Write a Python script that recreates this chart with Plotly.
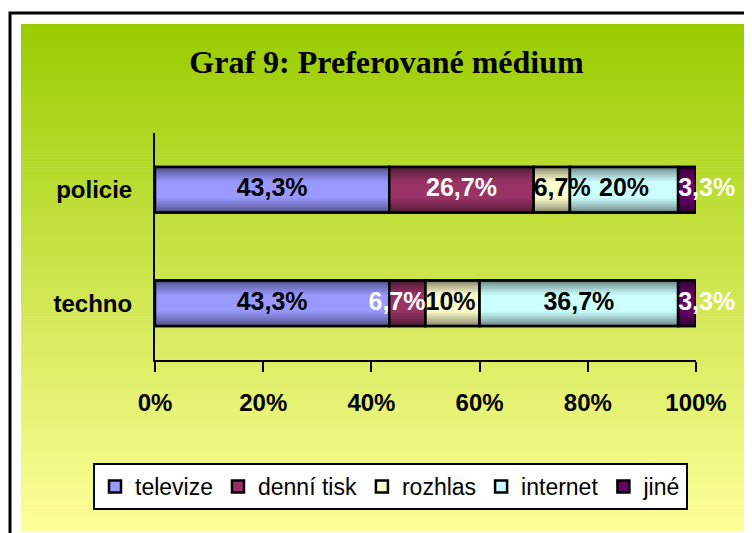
import plotly.graph_objects as go

# ---- data ----
categories = ["policie", "techno"]
series_names = ["televize", "denní tisk", "rozhlas", "internet", "jiné"]
televize = [43.3, 43.3]
denni_tisk = [26.7, 6.7]
rozhlas = [6.7, 10.0]
internet = [20.0, 36.7]
jine = [3.3, 3.3]
tick_vals = [0, 20, 40, 60, 80, 100]
tick_text = ["0%", "20%", "40%", "60%", "80%", "100%"]

series_values = [televize, denni_tisk, rozhlas, internet, jine]
bar_colors = [(153, 153, 255), (153, 51, 102), (255, 255, 204), (204, 255, 255), (102, 0, 102)]
label_colors = ["black", "white", "black", "black", "white"]

W, H = 752, 533
OFF = 8  # page body margin: screenshot px = figure px + OFF
L = 155 - OFF
R = W - (696 - OFF)
T = 133 - OFF
B = H - (360 - OFF)
PW, PH = W - L - R, H - T - B

LABEL_SIZE = 25
BAR_W = 0.4


def px_x(px):  # screenshot px -> paper fraction
    return (px - OFF - L) / PW


def px_y(py):
    return (H - B - (py - OFF)) / PH


def fmt(v):
    return f"{v:g}".replace(".", ",") + "%"


def rgb(c):
    return "rgb(%d,%d,%d)" % tuple(int(round(x)) for x in c)


def est_width(s):  # rough bold Arial width in px
    w = 0.0
    for ch in s:
        w += {",": 0.278, "%": 0.889}.get(ch, 0.556)
    return w * LABEL_SIZE


n_cat = len(categories)
n_ser = len(series_values)
starts = [[0.0] * n_cat for _ in series_values]
for s in range(1, n_ser):
    for c in range(n_cat):
        starts[s][c] = starts[s - 1][c] + series_values[s - 1][c]

fig = go.Figure()

K = 10
for name, vals, col, base in zip(series_names, series_values, bar_colors, starts):
    # legend / base bar
    fig.add_trace(go.Bar(
        name=name, y=categories, x=vals, base=base, orientation="h", width=BAR_W,
        marker=dict(color=rgb(col), line=dict(color="black", width=2.5)),
        hoverinfo="skip",
    ))
    # cylinder-like shading: darker near top / bottom edges
    for i in range(K):
        t = i / (K - 1)
        w = BAR_W * (0.96 - 0.6 * t)
        f = 0.55 + 0.45 * (t ** 0.8)
        fig.add_trace(go.Bar(
            y=categories, x=vals, base=base, orientation="h", width=w,
            marker=dict(color=rgb(tuple(v * f for v in col)), line=dict(width=0)),
            showlegend=False, hoverinfo="skip",
        ))
    # outline on top
    fig.add_trace(go.Bar(
        y=categories, x=vals, base=base, orientation="h", width=BAR_W,
        marker=dict(color="rgba(0,0,0,0)", line=dict(color="black", width=2.5)),
        showlegend=False, hoverinfo="skip",
    ))

# label placement
px_per_unit = PW / 100.0
lab_x = [[starts[s][c] + series_values[s][c] / 2 for c in range(n_cat)] for s in range(n_ser)]
lab_pos = [["middle center"] * n_cat for _ in series_values]
# 1) adjacent overlapping labels pushed apart at their shared edge
for c in range(n_cat):
    for s in range(n_ser - 1):
        a_right = lab_x[s][c] * px_per_unit + est_width(fmt(series_values[s][c])) / 2
        b_left = lab_x[s + 1][c] * px_per_unit - est_width(fmt(series_values[s + 1][c])) / 2
        if a_right > b_left and lab_pos[s][c] == "middle center":
            edge = starts[s + 1][c]
            lab_x[s][c] = edge
            lab_pos[s][c] = "middle left"
            lab_x[s + 1][c] = edge
            lab_pos[s + 1][c] = "middle right"
# 2) labels wider than their segment start at the segment's left edge
for c in range(n_cat):
    for s in range(n_ser):
        if lab_pos[s][c] != "middle center":
            continue
        wlab = est_width(fmt(series_values[s][c]))
        if wlab > series_values[s][c] * px_per_unit:
            right = starts[s][c] * px_per_unit + wlab + 3
            ok = True
            if s + 1 < n_ser:
                nxt_left = lab_x[s + 1][c] * px_per_unit - est_width(fmt(series_values[s + 1][c])) / 2
                ok = right < nxt_left
            if ok:
                lab_x[s][c] = starts[s][c]
                lab_pos[s][c] = "middle right"

for s, (vals, tc) in enumerate(zip(series_values, label_colors)):
    fig.add_trace(go.Scatter(
        x=lab_x[s], y=categories, mode="text", text=[fmt(v) for v in vals],
        textposition=lab_pos[s],
        textfont=dict(family="Liberation Sans, Arial", size=LABEL_SIZE, color=tc, weight="bold"),
        showlegend=False, hoverinfo="skip", cliponaxis=False,
    ))

# background gradient + frame
shapes = []
top_c = (153, 204, 0)
bot_c = (255, 255, 153)
y_start, y_end = 24, 531
n = 170
step = (y_end - y_start) / n
for i in range(n):
    t = (i + 0.5) / n
    c = tuple(a + (b - a) * t for a, b in zip(top_c, bot_c))
    ya = y_start + i * step
    yb = min(y_start + (i + 1) * step + 0.6, y_end)
    shapes.append(dict(
        type="rect", xref="paper", yref="paper", layer="below",
        x0=px_x(21), x1=px_x(780), y0=px_y(yb), y1=px_y(ya),
        fillcolor=rgb(c), line=dict(width=0),
    ))
shapes.append(dict(
    type="rect", xref="paper", yref="paper", layer="above",
    x0=px_x(10), x1=px_x(800), y0=px_y(620), y1=px_y(13),
    fillcolor="rgba(0,0,0,0)", line=dict(color="black", width=3),
))

fig.update_layout(
    width=W, height=H,
    margin=dict(l=L, r=R, t=T, b=B),
    paper_bgcolor="white", plot_bgcolor="rgba(0,0,0,0)",
    barmode="overlay",
    shapes=shapes,
    title=dict(
        text="<b>Graf 9: Preferované médium</b>",
        font=dict(family="Liberation Serif, Times New Roman", size=32, color="black"),
        x=(386.5 - OFF) / W, xanchor="center", xref="container",
        y=1 - (62 - OFF) / H, yanchor="middle", yref="container",
    ),
    xaxis=dict(
        range=[0, 100], tickvals=tick_vals, ticktext=tick_text,
        showgrid=False, zeroline=False,
        showline=True, linecolor="black", linewidth=2,
        ticks="outside", ticklen=10, tickwidth=2, tickcolor="black",
        tickfont=dict(family="Liberation Sans, Arial", size=24, color="black", weight="bold"),
        ticklabelstandoff=10, fixedrange=True,
    ),
    yaxis=dict(
        categoryorder="array", categoryarray=categories[::-1],
        showgrid=False, zeroline=False,
        showline=True, linecolor="black", linewidth=2,
        ticks="", tickfont=dict(family="Liberation Sans, Arial", size=24, color="black", weight="bold"),
        ticklabelstandoff=16, fixedrange=True,
    ),
    legend=dict(
        orientation="h", traceorder="normal",
        x=px_x(93), xanchor="left", y=px_y(463), yanchor="top",
        bgcolor="white", bordercolor="black", borderwidth=2,
        font=dict(family="Liberation Sans, Arial", size=23, color="black"),
        itemwidth=30,
    ),
    showlegend=True,
)

fig.write_html("out.html")
